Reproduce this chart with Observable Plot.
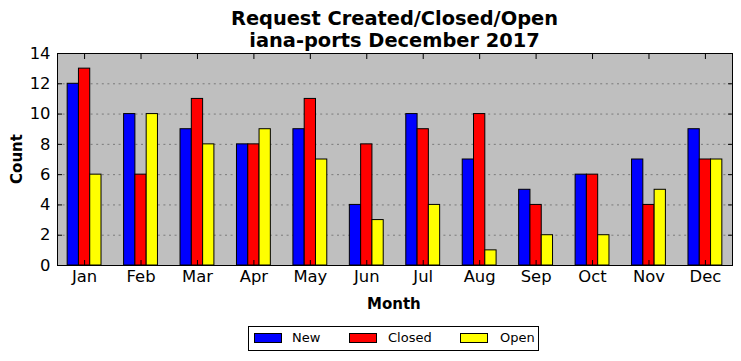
<!DOCTYPE html>
<html>
<head>
<meta charset="utf-8">
<script src="https://cdn.jsdelivr.net/npm/d3@7"></script>
<script src="https://cdn.jsdelivr.net/npm/@observablehq/plot@0.6"></script>
<style>
  html, body { margin: 0; padding: 0; background: #fff; }
  #wrap { position: relative; width: 741px; height: 361px; font-family: "DejaVu Sans", sans-serif; }
  #chart svg text { font-size: 16.4px; font-family: "DejaVu Sans", sans-serif; fill: #000; }
  #title { position: absolute; left: 57px; width: 675px; top: 8px; text-align: center; font-weight: bold; font-size: 19.4px; line-height: 22px; color: #000; }
  .axlabel { position: absolute; font-weight: bold; font-size: 15px; color: #000; white-space: nowrap; }
  #legend { position: absolute; left: 248px; top: 326px; width: 289px; height: 23px; border: 1px solid #000; background: #fff; font-size: 13px; }
  .sw { position: absolute; top: 6px; width: 26px; height: 8px; border: 1px solid #000; }
  .lt { position: absolute; top: 3px; line-height: 16px; }
</style>
</head>
<body>
<div id="wrap">
  <div id="chart"></div>
  <div id="title">Request Created/Closed/Open<br>iana-ports December 2017</div>
  <div class="axlabel" id="xlab" style="left:367px; top:295px;">Month</div>
  <div class="axlabel" id="ylab" style="left:-8px; top:150px; transform: rotate(-90deg); transform-origin: 50% 50%;">Count</div>
  <div id="legend"></div>
</div>
<script>
const months = ["Jan","Feb","Mar","Apr","May","Jun","Jul","Aug","Sep","Oct","Nov","Dec"];
const newCounts    = [12, 10, 9, 8, 9, 4, 10, 7, 5, 6, 7, 9];
const closedCounts = [13, 6, 11, 8, 11, 8, 9, 10, 4, 6, 4, 7];
const openCounts   = [6, 10, 8, 9, 7, 3, 4, 1, 2, 2, 5, 7];
const seriesNames  = ["New", "Closed", "Open"];
const seriesColors = ["#0000ff", "#ff0000", "#ffff00"];
const yTicks = [0, 2, 4, 6, 8, 10, 12, 14];
const gridTicks = [2, 4, 6, 8, 10, 12];

const W = 741, H = 361, mL = 57, mR = 9, mT = 53, mB = 96;
const padIn = 0.4, padOut = 0.18;
const step = (W - mL - mR) / (months.length - padIn + 2 * padOut);
const bw = step * (1 - padIn);
const third = bw / 3;

const rows = [];
[newCounts, closedCounts, openCounts].forEach((arr, s) => {
  arr.forEach((v, i) => rows.push({month: months[i], series: seriesNames[s], count: v}));
});

const insets = [
  {insetLeft: 0, insetRight: 2 * third},
  {insetLeft: third, insetRight: third},
  {insetLeft: 2 * third, insetRight: 0}
];

const plot = Plot.plot({
  width: W, height: H,
  marginLeft: mL, marginRight: mR, marginTop: mT, marginBottom: mB,
  style: {fontFamily: "DejaVu Sans, sans-serif", fontSize: "16px", background: "transparent", color: "#000"},
  x: {type: "band", domain: months, paddingInner: padIn, paddingOuter: padOut, round: false, label: null},
  y: {domain: [0, 14], label: null},
  marks: [
    Plot.frame({fill: "#bfbfbf", stroke: null}),
    Plot.gridY(gridTicks, {stroke: "#7a7a7a", strokeOpacity: 1, strokeWidth: 1, strokeDasharray: "2,3.6"}),
    ...seriesNames.map((s, k) => Plot.barY(rows.filter(d => d.series === s), {
      x: "month", y: "count", fill: seriesColors[k], stroke: "#000", strokeWidth: 1, ...insets[k]
    })),
    Plot.frame({stroke: "#000", strokeWidth: 1}),
    Plot.axisY({ticks: yTicks, tickSize: -5, tickPadding: 12, label: null}),
    Plot.axisY({ticks: yTicks, anchor: "right", tickSize: -5, tickFormat: () => "", label: null}),
    Plot.axisX({tickSize: -5, tickPadding: 10, label: null}),
    Plot.axisX({anchor: "top", tickSize: -5, tickFormat: () => "", label: null})
  ]
});
document.getElementById("chart").appendChild(plot);

// legend
const legend = document.getElementById("legend");
const swX = [5, 100, 211];
const txX = [43, 139, 251];
seriesNames.forEach((s, k) => {
  const sw = document.createElement("div");
  sw.className = "sw"; sw.style.left = swX[k] + "px"; sw.style.background = seriesColors[k];
  legend.appendChild(sw);
  const t = document.createElement("div");
  t.className = "lt"; t.style.left = txX[k] + "px"; t.textContent = s;
  legend.appendChild(t);
});
</script>
</body>
</html>
